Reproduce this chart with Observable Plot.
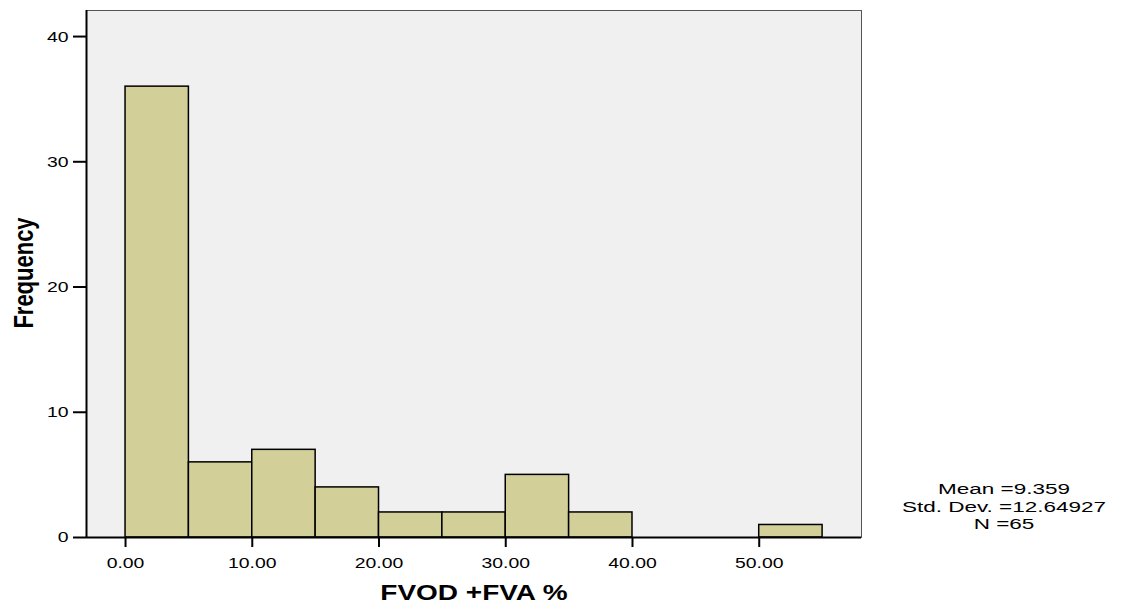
<!DOCTYPE html>
<html>
<head>
<meta charset="utf-8">
<script src="https://cdn.jsdelivr.net/npm/d3@7"></script>
<script src="https://cdn.jsdelivr.net/npm/@observablehq/plot@0.6"></script>
<style>
  html, body { margin: 0; padding: 0; background: #fff; }
  #chart { width: 1122px; height: 607px; }
</style>
</head>
<body>
<div id="chart"></div>
<script>
const binStart = [0, 5, 10, 15, 20, 25, 30, 35, 50];
const binEnd   = [5, 10, 15, 20, 25, 30, 35, 40, 55];
const counts   = [36, 6, 7, 4, 2, 2, 5, 2, 1];
const xTicks = [0, 10, 20, 30, 40, 50];
const yTicks = [0, 10, 20, 30, 40];
const xDomain = [-3.08, 58.07];
const yDomain = [0, 42.08];
const xLabel = "FVOD +FVA %";
const yLabel = "Frequency";
const statsLines = ["Mean =9.359", "Std. Dev. =12.64927", "N =65"];

const FONT = "'Liberation Sans', Arial, sans-serif";
const SX = 1.25; // horizontal stretch of the reference's text
const SX_STATS = 1.5;

const bins = binStart.map((s, i) => ({x1: s, x2: binEnd[i], y: counts[i]}));

const chart = Plot.plot({
  width: 1122,
  height: 607,
  marginLeft: 86,
  marginRight: 261,
  marginTop: 10,
  marginBottom: 70,
  style: { fontFamily: FONT, fontSize: "15.5px", color: "#000", background: "transparent" },
  x: { domain: xDomain, label: null },
  y: { domain: yDomain, label: null },
  marks: [
    Plot.frame({ fill: "#f0f0f0", stroke: "#555", strokeWidth: 1 }),
    Plot.rectY(bins, { x1: "x1", x2: "x2", y: "y", fill: "#d3cf98", stroke: "#000", strokeWidth: 1.5, inset: 0 }),
    Plot.ruleX([xDomain[0]], { stroke: "#000", strokeWidth: 2 }),
    Plot.ruleY([yDomain[0]], { stroke: "#000", strokeWidth: 2 }),
    Plot.axisX({ ticks: xTicks, tickFormat: d => d.toFixed(2), tickSize: 10, tickPadding: 9, strokeWidth: 2, fontSize: 15.5, label: null }),
    Plot.axisY({ ticks: yTicks, tickFormat: d => d, tickSize: 13, tickPadding: 5, strokeWidth: 2, fontSize: 15.5, label: null })
  ]
});

const svg = d3.select(chart);

// stretch tick label text horizontally about its anchor point
svg.selectAll('g[aria-label="x-axis tick label"] text, g[aria-label="y-axis tick label"] text').each(function() {
  const el = d3.select(this);
  const t = el.attr("transform");
  if (t) {
    el.attr("transform", t + ` scale(${SX},1)`);
  } else {
    const x = +el.attr("x") || 0, y = +el.attr("y") || 0;
    el.attr("transform", `translate(${x},${y}) scale(${SX},1) translate(${-x},${-y})`);
  }
});

svg.append("text")
  .attr("transform", `translate(474,600) scale(${SX},1)`)
  .attr("text-anchor", "middle")
  .attr("font-family", FONT)
  .attr("font-weight", "bold")
  .attr("font-size", 22.4)
  .attr("fill", "#000")
  .text(xLabel);

svg.append("text")
  .attr("transform", `translate(33,273) scale(${SX},1) rotate(-90)`)
  .attr("text-anchor", "middle")
  .attr("font-family", FONT)
  .attr("font-weight", "bold")
  .attr("font-size", 22)
  .attr("fill", "#000")
  .text(yLabel);

statsLines.forEach((s, i) => {
  svg.append("text")
    .attr("transform", `translate(1004,${494 + i * 17.5}) scale(${SX_STATS},1)`)
    .attr("text-anchor", "middle")
    .attr("font-family", FONT)
    .attr("font-size", 15)
    .attr("fill", "#000")
    .text(s);
});

document.getElementById("chart").appendChild(chart);
</script>
</body>
</html>
